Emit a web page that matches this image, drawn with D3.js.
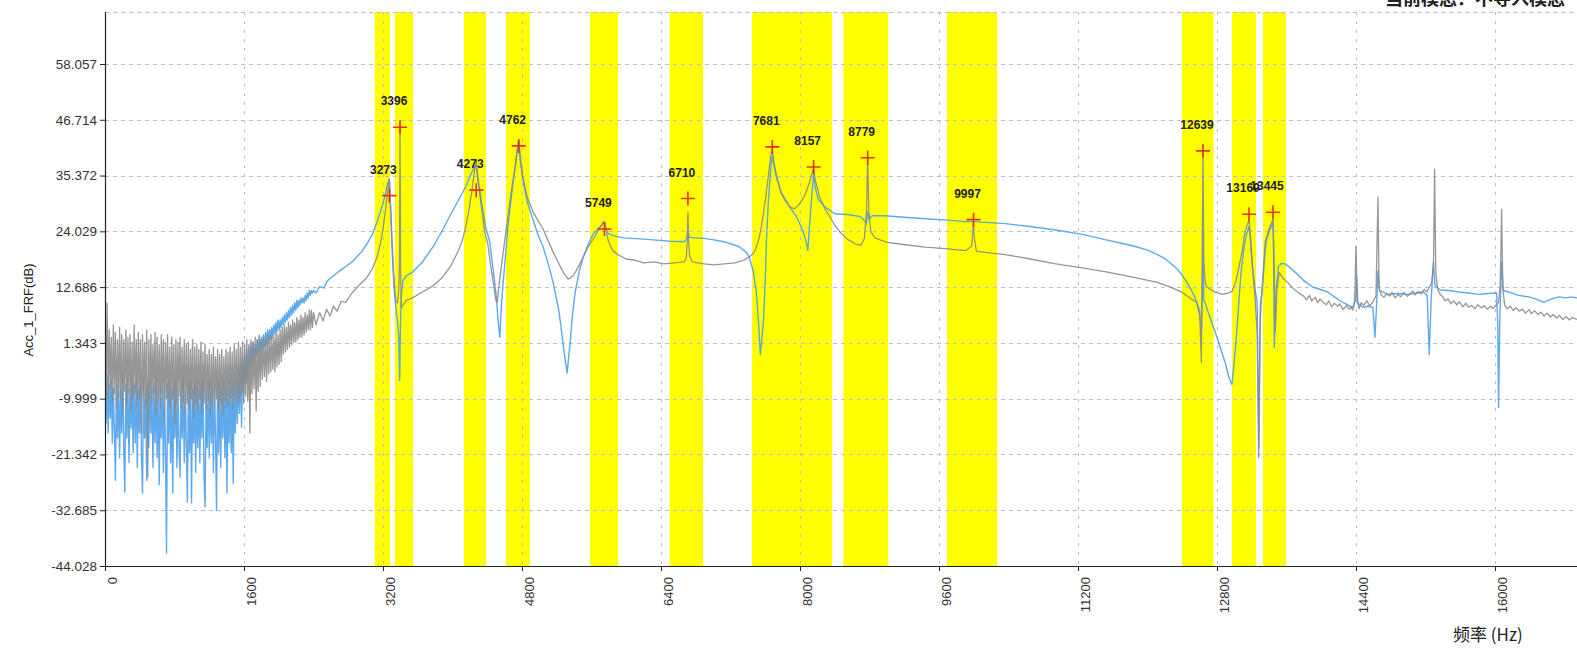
<!DOCTYPE html>
<html>
<head>
<meta charset="utf-8">
<script src="https://cdn.jsdelivr.net/npm/d3@7"></script>
<style>
  html, body { margin: 0; padding: 0; background: #ffffff; overflow: hidden; }
  svg { display: block; font-family: "Liberation Sans", Arial, sans-serif; }
</style>
</head>
<body>
<svg id="chart" width="1577" height="649"></svg>
<script>
// ---------------- data ----------------
// Noisy low-frequency part of both FRF records, sampled every lowStep Hz from 0 Hz.
const lowStep = 12;
const grayLow = [
  3, -9, 9.5, -10, 4, -8, 2.5, -11, 5, -9,
  3.5, -12, 2, -9.5, 4.5, -10, 3, -13, 2, -8.5,
  4, -11, 2.5, -9, 3, -12.5, 1.5, -10, 5, -9,
  2, -11.5, 3.5, -10, 2, -17, 3, -9.5, 1.5, -12,
  4, -26, 2, -10, 3, -11, 1, -9, 3.5, -13,
  2.5, -10.5, 1, -12, 3, -9, 2, -14, 1.5, -10,
  3, -11, 0.5, -12.5, 2.5, -10, 1, -15, 2, -11,
  1.5, -9.5, 2.5, -12, 0.5, -10.5, 2, -13, 1, -11,
  1.5, -12, 0, -10, 2, -14, 0.5, -11, 1, -12.5,
  0, -10, 1.5, -13, -0.5, -11, 1, -12, -1, -10.5,
  0, -13.5, -1, -11, 0.5, -12, -1.5, -10, 0, -12.5,
  -1, -11, 0, -13, -1.5, -10.5, 0, -12, -0.5, -11,
  0.5, -10, -0.5, -12, 1, -9.5, 0, -11, 1.5, -10,
  0.5, -9, 1.5, -11, 1, -9.5, 2, -10.5, 1, -17,
  2, -9, 1.5, -8, 2.5, -12.5, 2, -8.5, 3, -7.5,
  2, -6, 2.5, -5.5, 2, -6.5, 3, -5, 2.5, -4.5,
  3, -4, 2.5, -4.5, 3.5, -3.5, 3, -3, 4, -2.5,
  4.5, -1, 5, -0.5, 4.5, 0, 5.5, 0.5, 5, 1,
  6, 1.5, 5.5, 1.5, 6.5, 2, 6, 2.5, 7, 2.5,
  6.5, 3, 7.5, 3.5, 7, 4, 8, 4, 8, 4.5, 7.5
];
const blueLow = [
  -6, -15, -5, -17, -7, -14, -6, -19, -8, -16,
  -26.6, -7, -18, -6, -22, -8, -17, -5, -20, -29,
  -7, -18, -6, -23, -8, -16, -5, -21, -7, -19,
  -6, -24, -8, -17, -7, -22, -29.2, -6, -18, -8,
  -26.6, -7, -20, -6, -17, -8, -24, -7, -19, -6,
  -22, -8, -27.5, -7, -18, -6, -25, -8, -20, -41.4,
  -7, -19, -6, -23, -8, -29.2, -7, -18, -6, -24,
  -8, -20, -26, -7, -18, -6, -23, -8, -19, -31,
  -7, -21, -6, -31.2, -8, -19, -7, -25, -6, -20,
  -8, -23, -7, -18, -6, -26, -32, -8, -20, -7,
  -22, -6, -19, -8, -25, -7, -18, -32.7, -6, -21,
  -7, -24, -8, -18, -6, -22, -7, -29.2, -8, -19,
  -6, -21, -7, -27.2, -5, -17, -6, -15, -4, -13,
  -3, -15.8, -2, -9, -1, -7, 0, -6, 0.5, -4,
  1, -3, 1.5, -2, 1, -1.5, 2, -1, 2.5, -0.5,
  2.5, 0, 3, 0.5, 3.5, 1, 4, 1.5, 4, 2,
  4.5, 2.5, 5, 3, 5.5, 3.5, 6, 4, 6, 4.5,
  6.5, 5, 7, 5.5, 7.5, 6, 8, 6.5, 8.5, 7,
  9, 7.5, 9.5, 8, 10, 8.5, 10, 9, 10.5, 9.5,
  10.5, 9.5, 11, 10, 11.5, 10.5, 12, 11, 12, 11.5, 12
];

// Remaining part of the records: [frequency (Hz), level (dB)]
const grayHigh = [
  [2430, 5], [2470, 7.5], [2510, 5.8], [2550, 8.2], [2590, 6.8], [2630, 8.8], [2670, 7.8], [2720, 9.8],
  [2770, 9.6], [2843, 11.5], [2920, 13], [3017, 14.7], [3080, 16.5], [3132, 18.8], [3170, 21.5],
  [3200, 24.5], [3230, 28.5], [3255, 32.5], [3273, 34.5], [3288, 29], [3305, 22], [3325, 15],
  [3345, 10], [3365, 9.5], [3382, 12], [3390, 18], [3396, 46], [3402, 16], [3412, 8.5], [3430, 9],
  [3470, 10], [3539, 10.5], [3654, 11.7], [3780, 13], [3886, 14.7], [3980, 17], [4060, 19.8],
  [4110, 22], [4152, 24.9], [4190, 28.5], [4225, 32.5], [4255, 36.5], [4273, 38.6], [4290, 35],
  [4325, 30], [4370, 24], [4406, 21.5], [4440, 17], [4470, 13.5], [4500, 10], [4515, 9.6],
  [4535, 13], [4560, 16.5], [4600, 22], [4637, 27], [4680, 32.5], [4720, 37], [4745, 40.5],
  [4762, 42.5], [4780, 39], [4811, 35], [4860, 31], [4926, 28], [5042, 24.5], [5158, 19.8],
  [5274, 15.7], [5332, 14.3], [5390, 15], [5448, 16.8], [5564, 20.9], [5680, 24.2], [5730, 25.8],
  [5749, 26], [5770, 24], [5796, 21.9], [5850, 20], [5912, 19.2], [6000, 18.4], [6085, 18.2],
  [6200, 17.6], [6320, 17.8], [6433, 17.4], [6560, 17.6], [6664, 17.8], [6690, 18.5], [6702, 22],
  [6710, 28], [6718, 22], [6730, 19], [6760, 17.8], [6895, 17.4], [7010, 17.2], [7127, 17.4],
  [7250, 17.6], [7359, 18.2], [7430, 19], [7474, 19.8], [7520, 22], [7555, 24.9], [7590, 29],
  [7613, 32], [7640, 36], [7665, 39.5], [7681, 40.8], [7700, 38], [7728, 35.5], [7780, 32],
  [7821, 30.5], [7880, 29], [7937, 28.6], [7990, 29.5], [8052, 31.2], [8110, 34], [8140, 36],
  [8157, 37], [8175, 34.5], [8227, 31], [8290, 28.5], [8343, 27], [8400, 25.3], [8459, 23.9],
  [8540, 22.5], [8633, 21.5], [8700, 21.2], [8740, 22.5], [8765, 28], [8779, 39], [8792, 28],
  [8815, 24], [8862, 22.7], [9000, 21.8], [9209, 21.3], [9440, 20.8], [9673, 20.5], [9905, 20.1],
  [9975, 21], [9990, 24], [9997, 26], [10005, 23], [10030, 20], [10200, 19.6], [10366, 19.3],
  [10650, 18.4], [10945, 17.4], [11250, 16.6], [11524, 15.8], [11800, 14.8], [12103, 13.7],
  [12250, 12.8], [12392, 11.7], [12508, 10.2], [12566, 9.6], [12600, 8], [12620, -2.6],
  [12630, 20], [12639, 40.3], [12648, 18], [12665, 13.5], [12682, 12.7], [12760, 11.8],
  [12856, 11.2], [12920, 11.4], [12972, 11.8], [13020, 14], [13053, 16.8], [13090, 20],
  [13111, 22.9], [13140, 25], [13169, 26.3], [13190, 22], [13204, 17.8], [13240, 10],
  [13262, 3.5], [13280, -22], [13295, 4], [13308, 9.6], [13340, 18], [13355, 21.9], [13400, 24.5],
  [13445, 26.5], [13455, 20], [13471, 3.5], [13490, 12], [13517, 15.7], [13560, 14.5],
  [13610, 13.7], [13670, 12.5], [13726, 11.7], [13800, 10.8], [13830, 10.1], [13865, 11],
  [13890, 9.9], [13930, 10.6], [13960, 9.5], [13985, 10.3], [14020, 9.6], [14060, 9.1],
  [14085, 9.9], [14120, 8.7], [14150, 9.4], [14190, 8.8], [14215, 9.3], [14250, 8.1], [14290, 8.9],
  [14320, 8.2], [14345, 8.6], [14363, 8], [14385, 10], [14400, 21], [14412, 10.5], [14433, 8.3],
  [14460, 9.5], [14490, 9], [14525, 9.9], [14555, 8.9], [14595, 9.6], [14630, 11], [14653, 31],
  [14666, 12.5], [14688, 11.2], [14720, 10.6], [14750, 11.3], [14790, 10.9], [14815, 11.6],
  [14850, 10.5], [14884, 11.2], [14915, 10.7], [14950, 11.6], [14990, 10.8], [15020, 11.3],
  [15055, 11.9], [15080, 11.1], [15116, 11.8], [15150, 11.3], [15185, 12.2], [15215, 11.7],
  [15245, 12.7], [15270, 13.5], [15292, 17], [15305, 36.6], [15318, 16], [15340, 12.2],
  [15370, 11.2], [15395, 10.8], [15425, 9.9], [15460, 10.3], [15490, 9.3], [15525, 9.9],
  [15560, 9.1], [15590, 9.7], [15630, 8.7], [15665, 9.4], [15695, 8.6], [15730, 9], [15770, 8.3],
  [15800, 9.1], [15845, 8.5], [15875, 8.9], [15910, 8.2], [15950, 8.8], [15980, 8.3], [16010, 9],
  [16040, 9.6], [16060, 13], [16076, 28.5], [16090, 12.5], [16111, 9], [16140, 8.3], [16175, 8.8],
  [16210, 7.9], [16240, 8.5], [16280, 7.8], [16315, 8.2], [16350, 7.4], [16390, 8.1], [16420, 7.3],
  [16455, 7.9], [16495, 7.1], [16530, 7.6], [16565, 6.8], [16600, 7.4], [16640, 6.6], [16670, 7.1],
  [16710, 6.4], [16745, 6.9], [16780, 6.1], [16820, 6.7], [16855, 6], [16890, 6.5], [16944, 6.1]
];
const blueHigh = [
  [2430, 11.5], [2470, 12.8], [2520, 12.5], [2560, 14], [2612, 14.7], [2700, 16], [2843, 17.8],
  [2950, 19.8], [3017, 21.5], [3080, 23.5], [3132, 26], [3180, 28.5], [3220, 31], [3250, 33.5],
  [3273, 34.8], [3288, 28], [3305, 20], [3325, 13], [3345, 9], [3365, 6], [3380, 3], [3392, -6.3],
  [3400, 4], [3410, 11], [3430, 14], [3470, 15], [3539, 15.7], [3654, 17.8], [3780, 21],
  [3886, 24.3], [3980, 27.5], [4060, 30.1], [4152, 33.1], [4210, 35.6], [4250, 37], [4273, 37.6],
  [4290, 35], [4325, 31], [4380, 25], [4429, 21.9], [4470, 16], [4499, 11.7], [4530, 5],
  [4545, 2.5], [4560, 8], [4580, 13], [4610, 19], [4637, 24.9], [4680, 31.5], [4720, 37],
  [4745, 40.5], [4762, 42.5], [4780, 38.5], [4811, 34.5], [4860, 30], [4926, 26.5], [4980, 23.5],
  [5042, 20.9], [5100, 17.5], [5158, 13.7], [5227, 7.6], [5260, 3], [5285, -0.6], [5320, -4.8],
  [5340, -1], [5355, 1.4], [5380, 7], [5413, 11.7], [5460, 16], [5506, 18.8], [5564, 21.5],
  [5622, 23.5], [5700, 25], [5749, 25.8], [5770, 24.5], [5796, 23.5], [5880, 23], [5970, 22.7],
  [6150, 22.5], [6317, 22.3], [6500, 22], [6664, 21.9], [6695, 22.5], [6710, 24], [6725, 22.8],
  [6800, 22.7], [6895, 22.6], [7010, 22.3], [7127, 21.9], [7220, 21.4], [7300, 20.9],
  [7380, 19.8], [7416, 18.8], [7460, 16], [7497, 11.7], [7525, 5], [7543, -1], [7560, 2],
  [7578, 5.5], [7600, 14], [7613, 21.9], [7635, 30], [7660, 36], [7681, 39.5], [7700, 37.5],
  [7728, 35], [7780, 32], [7844, 30.1], [7900, 28.5], [7960, 27], [8029, 24.3], [8070, 22],
  [8090, 20.1], [8105, 24], [8130, 30], [8157, 35.8], [8175, 33], [8210, 30.5], [8285, 29],
  [8401, 27.6], [8500, 27.5], [8575, 27.4], [8700, 27], [8750, 26], [8765, 25.5], [8779, 28],
  [8795, 26.5], [8830, 27.2], [8978, 27.2], [9200, 26.9], [9441, 26.6], [9700, 26.3], [9905, 26],
  [9997, 26], [10366, 25.6], [10650, 25], [10945, 24.3], [11250, 23.4], [11524, 22.3],
  [11700, 21.6], [11871, 20.9], [12000, 20.2], [12103, 19.4], [12200, 18.5], [12276, 17.4],
  [12340, 16.4], [12392, 15.3], [12440, 14], [12485, 12.7], [12530, 11.2], [12566, 9.6],
  [12600, 7], [12620, 3.5], [12632, 12], [12639, 24], [12648, 10], [12660, 9.6], [12700, 7.5],
  [12740, 5.5], [12800, 2.5], [12856, -0.6], [12900, -3], [12937, -5.7], [12972, -7.1],
  [12995, -3], [13018, 1.4], [13045, 8], [13076, 15.7], [13110, 20.5], [13140, 23.5],
  [13169, 25], [13190, 21], [13204, 17.4], [13240, 12], [13262, 9.6], [13282, -20], [13298, 9],
  [13320, 11.7], [13345, 18], [13366, 21.9], [13400, 24], [13445, 25.8], [13452, 18],
  [13459, 0.4], [13480, 12], [13506, 16.8], [13540, 17.5], [13587, 17.4], [13650, 16.5],
  [13726, 15.3], [13800, 14], [13900, 12.7], [13990, 12.2], [14073, 11.7], [14160, 10.6],
  [14247, 9.6], [14310, 9], [14363, 8.6], [14395, 10], [14409, 14.7], [14420, 9.5], [14479, 8.6],
  [14540, 8.8], [14595, 8.6], [14618, 2.5], [14640, 10], [14653, 16], [14670, 12], [14768, 11.2],
  [14880, 11.4], [15000, 11.2], [15100, 11.5], [15174, 11.7], [15220, 11], [15243, -1],
  [15265, 10], [15290, 17.8], [15310, 13], [15371, 12.1], [15470, 12], [15579, 11.7],
  [15700, 11.5], [15810, 11.2], [15920, 11.4], [16018, 11.5], [16032, 5], [16041, -11.8],
  [16055, 6], [16076, 17.8], [16095, 12], [16157, 11.7], [16270, 11], [16389, 10.7],
  [16480, 10.2], [16563, 9.6], [16650, 10.3], [16736, 10.7], [16820, 10.5], [16875, 10.7],
  [16944, 10.5]
];

// Frequency bands selected for mode identification (Hz)
const bandStarts = [3105, 3338, 4132, 4616, 5583, 6500, 7448, 8500, 9692, 12397, 12973, 13330];
const bandEnds   = [3282, 3545, 4386, 4890, 5905, 6884, 8368, 9015, 10268, 12760, 13249, 13594];

// Picked peaks
const peakFreqs  = [3273, 3396, 4273, 4762, 5749, 6710, 7681, 8157, 8779, 9997, 12639, 13169, 13445];
const peakLevels = [31.3, 45.2, 32.4, 41.4, 24.5, 30.7, 41.2, 37.1, 39.0, 26.4, 40.4, 27.5, 27.9];

// Axis ticks
const xTicks = [0, 1600, 3200, 4800, 6400, 8000, 9600, 11200, 12800, 14400, 16000];
const yTicks = [-44.028, -32.685, -21.342, -9.999, 1.343, 12.686, 24.029, 35.372, 46.714, 58.057];
const yTickLabels = ["-44.028", "-32.685", "-21.342", "-9.999", "1.343", "12.686", "24.029", "35.372", "46.714", "58.057"];

const yTitle = "Acc_1_FRF(dB)";
const xTitle = "频率 (Hz)";
const statusText = "当前模态：不导入模态";

// ---------------- layout ----------------
const plotLeft = 105, plotRight = 1577, plotTop = 12, plotBottom = 566;

const x = d3.scaleLinear().domain([0, 16000]).range([plotLeft, 1495]);
const y = d3.scaleLinear().domain([-44.028, 58.057]).range([plotBottom, 64]);

const svg = d3.select("#chart");

svg.append("defs").append("clipPath").attr("id", "plotClip")
  .append("rect").attr("x", plotLeft).attr("y", plotTop)
  .attr("width", plotRight - plotLeft).attr("height", plotBottom - plotTop);

// Yellow bands
const bands = bandStarts.map((s, i) => [s, bandEnds[i]]);
svg.append("g").selectAll("rect").data(bands).join("rect")
  .attr("x", d => x(d[0]))
  .attr("y", plotTop)
  .attr("width", d => x(d[1]) - x(d[0]))
  .attr("height", plotBottom - plotTop)
  .attr("fill", "#ffff00");

// Grid
const grid = svg.append("g").attr("stroke", "#b9bdd2").attr("stroke-width", 1).attr("stroke-dasharray", "4,4");
grid.selectAll("line.h").data(yTicks.concat([y.invert(plotTop)])).join("line")
  .attr("class", "h")
  .attr("x1", plotLeft).attr("x2", plotRight)
  .attr("y1", d => Math.round(y(d)) + 0.5).attr("y2", d => Math.round(y(d)) + 0.5);
grid.selectAll("line.v").data(xTicks.slice(1)).join("line")
  .attr("class", "v")
  .attr("x1", d => Math.round(x(d)) + 0.5).attr("x2", d => Math.round(x(d)) + 0.5)
  .attr("y1", plotTop).attr("y2", plotBottom)
  .attr("stroke-dasharray", "3,6");

// FRF curves
const grayData = grayLow.map((v, i) => [i * lowStep, v]).concat(grayHigh);
const blueData = blueLow.map((v, i) => [i * lowStep, v]).concat(blueHigh);
const line = d3.line().x(d => x(d[0])).y(d => y(d[1]));

const curves = svg.append("g").attr("clip-path", "url(#plotClip)");
curves.append("path").datum(blueData)
  .attr("d", line).attr("fill", "none")
  .attr("stroke", "#4ba0ea").attr("stroke-width", 1.4).attr("stroke-opacity", 0.9)
  .attr("stroke-linejoin", "round");
curves.append("path").datum(grayData)
  .attr("d", line).attr("fill", "none")
  .attr("stroke", "#8b8b8b").attr("stroke-width", 1.3).attr("stroke-opacity", 0.9)
  .attr("stroke-linejoin", "round");

// Axes
const yAxis = d3.axisLeft(y).tickValues(yTicks).tickFormat((d, i) => yTickLabels[i]).tickSize(5).tickPadding(3);
const gy = svg.append("g").attr("transform", `translate(${plotLeft},0)`).call(yAxis);
gy.select(".domain").remove();
gy.selectAll("text").attr("font-size", 13.5).attr("fill", "#333").attr("font-family", "Liberation Sans, Arial, sans-serif");
gy.selectAll("line").attr("stroke", "#222");

const xAxis = d3.axisBottom(x).tickValues(xTicks).tickFormat(d3.format("d")).tickSize(5);
const gx = svg.append("g").attr("transform", `translate(0,${plotBottom})`).call(xAxis);
gx.select(".domain").remove();
gx.selectAll("line").attr("stroke", "#222");
gx.selectAll("text")
  .attr("font-size", 13).attr("fill", "#333").attr("font-family", "Liberation Sans, Arial, sans-serif")
  .attr("text-anchor", "end")
  .attr("dy", null)
  .attr("y", 0).attr("x", 0)
  .attr("transform", "translate(11,11) rotate(-90)");

svg.append("line").attr("x1", plotLeft + 0.5).attr("x2", plotLeft + 0.5).attr("y1", plotTop).attr("y2", plotBottom)
  .attr("stroke", "#222").attr("stroke-width", 1.2);
svg.append("line").attr("x1", plotLeft).attr("x2", plotRight).attr("y1", plotBottom + 0.5).attr("y2", plotBottom + 0.5)
  .attr("stroke", "#222").attr("stroke-width", 1.2);

// Peak markers and labels
const peaks = peakFreqs.map((f, i) => ({ f, v: peakLevels[i] }));
const pk = svg.append("g");
pk.selectAll("path").data(peaks).join("path")
  .attr("transform", d => `translate(${x(d.f)},${y(d.v)})`)
  .attr("d", "M-7,0H7M0,-7V7")
  .attr("stroke", "#e5321d").attr("stroke-width", 1.6).attr("fill", "none");
pk.selectAll("text").data(peaks).join("text")
  .attr("x", d => x(d.f) - 6)
  .attr("y", d => y(d.v) - 22)
  .attr("text-anchor", "middle")
  .attr("font-size", 12).attr("font-weight", "bold").attr("fill", "#222")
  .text(d => d.f);

// Titles
svg.append("text")
  .attr("transform", "translate(33,310) rotate(-90)")
  .attr("text-anchor", "middle")
  .attr("font-size", 13).attr("fill", "#222")
  .text(yTitle);

svg.append("text")
  .attr("x", 1453).attr("y", 641)
  .attr("font-family", "Noto Sans CJK SC, sans-serif")
  .attr("font-size", 17).attr("fill", "#222")
  .text(xTitle);

svg.append("text")
  .attr("x", 1385).attr("y", 5)
  .attr("font-family", "Noto Sans CJK SC, sans-serif")
  .attr("font-size", 18).attr("font-weight", "bold").attr("fill", "#222")
  .text(statusText);
</script>
</body>
</html>
